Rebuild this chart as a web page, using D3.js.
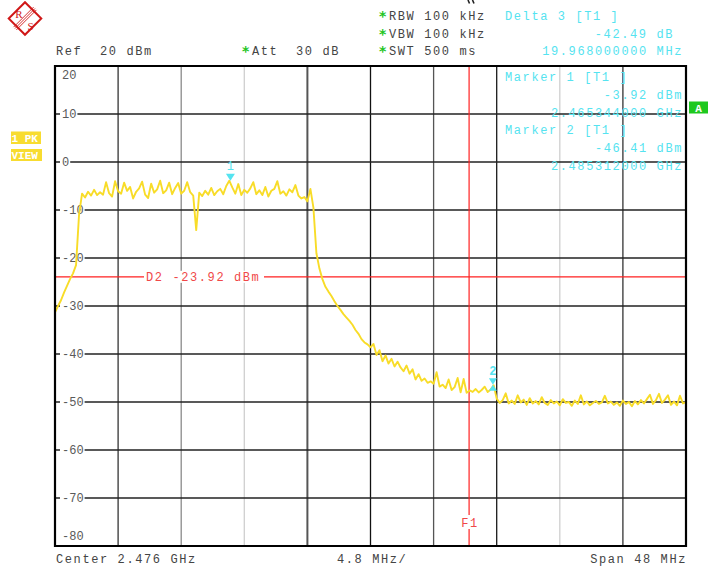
<!DOCTYPE html>
<html>
<head>
<meta charset="utf-8">
<script src="https://cdn.jsdelivr.net/npm/d3@7"></script>
<style>
  html, body { margin: 0; padding: 0; background: #fff; }
  svg { display: block; }
  text { font-family: "Liberation Mono", "DejaVu Sans Mono", monospace; white-space: pre; }
</style>
</head>
<body>
<div id="chart"></div>
<script>
// span settings (MHz) and level axis (dBm)
const freqStart = 2452;
const freqStop = 2500;
const levelTicks = [20, 10, 0, -10, -20, -30, -40, -50, -60, -70, -80];
const divFreqs = [2456.8, 2461.6, 2466.4, 2471.2, 2476.0, 2480.8, 2485.6, 2490.4, 2495.2];

// trace 1 (PK, view), equally spaced over the span
const trace = [
  -31.3, -30.0, -28.8, -27.2, -25.8, -24.4, -23.2, -21.5, -11.0, -6.6,
  -7.4, -6.2, -7.0, -5.8, -6.9, -6.3, -6.8, -4.2, -6.5, -7.2,
  -4.0, -6.1, -6.6, -4.3, -6.0, -5.2, -7.6, -6.2, -5.5, -4.1,
  -6.8, -7.5, -4.5, -6.4, -5.7, -3.9, -6.5, -5.9, -4.3, -6.7,
  -5.4, -4.4, -6.6, -6.0, -4.2, -6.3, -7.0, -14.2, -6.4, -7.1,
  -6.0, -6.8, -5.4, -6.9, -6.1, -5.6, -6.7, -5.0, -3.9, -5.3,
  -6.6, -4.6, -6.9, -5.8, -6.4, -5.5, -4.2, -6.7, -5.9, -6.9,
  -5.2, -7.2, -6.0, -5.6, -4.0, -6.6, -6.1, -7.0, -5.7, -6.3,
  -4.8, -7.0, -7.6, -7.3, -8.2, -5.6, -9.5, -19.0, -22.2, -24.4,
  -26.0, -27.0, -27.9, -29.0, -30.0, -30.8, -31.7, -32.4, -33.1, -33.9,
  -35.0, -35.8, -36.9, -37.6, -38.0, -38.6, -37.9, -40.2, -39.2, -41.5,
  -40.3, -42.0, -41.0, -42.6, -41.6, -42.8, -43.6, -42.4, -44.1, -43.2,
  -45.3, -44.2, -45.6, -45.1, -46.0, -45.7, -46.2, -43.8, -46.8, -46.4,
  -47.1, -45.3, -47.5, -46.9, -45.0, -48.0, -45.2, -48.1, -47.6, -47.9,
  -47.3, -48.0, -47.5, -46.8, -47.9, -47.4, -46.5, -49.3, -50.2, -49.6,
  -48.2, -50.3, -49.7, -50.4, -48.6, -50.1, -49.5, -50.6, -49.2, -50.3,
  -49.8, -50.5, -49.0, -50.2, -50.6, -49.6, -50.3, -49.9, -50.7, -49.4,
  -50.2, -50.0, -50.8, -49.7, -50.4, -48.6, -50.5, -49.9, -50.7, -50.2,
  -49.8, -50.4, -50.1, -48.7, -50.3, -49.9, -50.6, -50.1, -50.8, -49.7,
  -50.4, -50.0, -50.9, -49.8, -50.5, -49.6, -50.3, -49.4, -48.5, -50.4,
  -49.6, -48.3, -50.2, -49.5, -48.6, -50.6, -49.9, -50.7, -48.7, -50.3,
  -50.0
];

// markers, display line, frequency line
const markerNames = ["1", "2"];
const markerFreqs = [2465.344, 2485.312];
const markerLevels = [-3.92, -46.41];
const d2Level = -23.92;
const f1Freq = 2483.5;

// header texts
const settingLines = ["RBW 100 kHz", "VBW 100 kHz", "SWT 500 ms"];
const deltaLines = ["Delta 3 [T1 ]", "-42.49 dB", "19.968000000 MHz"];
const markerLines = [
  "Marker 1 [T1 ]", "-3.92 dBm", "2.465344000 GHz",
  "Marker 2 [T1 ]", "-46.41 dBm", "2.485312000 GHz"
];

const W = 708, H = 568;
const plot = { left: 55, right: 686, top: 66, bottom: 546 };
const gray = "#444";
const cyan = "#55e3f0";
const red = "#ff2020";
const yellow = "#f8dc28";

const svg = d3.select("#chart")
  .append("svg")
  .attr("width", W)
  .attr("height", H);

const x = d3.scaleLinear().domain([freqStart, freqStop]).range([plot.left, plot.right]);
const y = d3.scaleLinear().domain([-80, 20]).range([plot.bottom, plot.top]);

// vertical grid, shades as they come out on the screen copy
const vShades = ["#333", "#8a8a8a", "#cfcfcf", "#555", "#111", "#555", "#1a1a1a", "#cfcfcf", "#333"];
svg.selectAll(".vgrid")
  .data(divFreqs)
  .join("line")
  .attr("class", "vgrid")
  .attr("x1", d => x(d)).attr("x2", d => x(d))
  .attr("y1", plot.top).attr("y2", plot.bottom)
  .attr("stroke", (d, i) => vShades[i])
  .attr("stroke-width", (d, i) => i === 3 ? 2 : 1.3);

svg.selectAll(".hgrid")
  .data(levelTicks.slice(1, -1))
  .join("line")
  .attr("class", "hgrid")
  .attr("x1", plot.left).attr("x2", plot.right)
  .attr("y1", d => y(d)).attr("y2", d => y(d))
  .attr("stroke", "#222")
  .attr("stroke-width", 1.4);

// level labels
const yLab = svg.selectAll(".ylab")
  .data(levelTicks)
  .join("g")
  .attr("class", "ylab");

yLab.filter(d => d !== 20 && d !== -80)
  .append("rect")
  .attr("x", 60)
  .attr("y", d => y(d) - 5)
  .attr("width", d => String(d).length * 7.2 + 3)
  .attr("height", 10)
  .attr("fill", "#fff");

yLab.append("text")
  .attr("x", 62)
  .attr("y", d => d === 20 ? 79 : d === -80 ? 540 : y(d) + 4)
  .attr("font-size", "12px")
  .attr("fill", "#5a5a5a")
  .text(d => d);

// display line D2
const d2y = y(d2Level);
svg.append("line")
  .attr("x1", plot.left).attr("x2", plot.right)
  .attr("y1", d2y).attr("y2", d2y)
  .attr("stroke", red).attr("stroke-width", 1.2);
svg.append("rect")
  .attr("x", 144).attr("y", d2y - 6)
  .attr("width", 120).attr("height", 12)
  .attr("fill", "#fff");
svg.append("text")
  .attr("x", 146).attr("y", d2y + 4)
  .attr("font-size", "12px")
  .attr("letter-spacing", "1.6px")
  .attr("fill", "#f04848")
  .text(`D2 ${d2Level.toFixed(2)} dBm`);

// frequency line F1
const f1x = x(f1Freq);
svg.append("line")
  .attr("x1", f1x).attr("x2", f1x)
  .attr("y1", plot.top).attr("y2", plot.bottom)
  .attr("stroke", red).attr("stroke-width", 1.2);
svg.append("rect")
  .attr("x", f1x - 10).attr("y", 515)
  .attr("width", 20).attr("height", 14)
  .attr("fill", "#fff");
svg.append("text")
  .attr("x", f1x + 1).attr("y", 527)
  .attr("text-anchor", "middle")
  .attr("font-size", "12px")
  .attr("letter-spacing", "1.6px")
  .attr("fill", "#f04848")
  .text("F1");

// trace
const step = (freqStop - freqStart) / (trace.length - 1);
const line = d3.line()
  .x((d, i) => x(freqStart + i * step))
  .y(d => y(d));

svg.append("path")
  .datum(trace)
  .attr("fill", "none")
  .attr("stroke", yellow)
  .attr("stroke-width", 1.9)
  .attr("stroke-linejoin", "round")
  .attr("d", line);

// markers
const m1x = x(markerFreqs[0]), m1y = y(markerLevels[0]);
svg.append("path")
  .attr("d", `M${m1x - 4.5},${m1y - 7}L${m1x + 4.5},${m1y - 7}L${m1x},${m1y}Z`)
  .attr("fill", cyan);
svg.append("text")
  .attr("x", m1x).attr("y", m1y - 11)
  .attr("text-anchor", "middle")
  .attr("font-size", "12px")
  .attr("fill", cyan)
  .text(markerNames[0]);

const m2x = x(markerFreqs[1]), m2y = y(markerLevels[1]);
svg.append("path")
  .attr("d", `M${m2x - 4},${m2y - 6.5}L${m2x + 4},${m2y - 6.5}L${m2x},${m2y}Z` +
             `M${m2x - 4},${m2y + 6}L${m2x + 4},${m2y + 6}L${m2x},${m2y}Z`)
  .attr("fill", cyan);
svg.append("text")
  .attr("x", m2x).attr("y", m2y - 10)
  .attr("text-anchor", "middle")
  .attr("font-size", "12px")
  .attr("font-weight", "bold")
  .attr("fill", cyan)
  .text(markerNames[1]);

// plot frame
svg.append("path")
  .attr("d", `M${plot.left},${plot.top}H${plot.right}V${plot.bottom}H${plot.left}Z`)
  .attr("fill", "none")
  .attr("stroke", "#000")
  .attr("stroke-width", 2.2);

// header
const hdr = (sel, xx, yy, txt, fill, anchor) => sel.append("text")
  .attr("x", xx).attr("y", yy)
  .attr("font-size", "12px")
  .attr("letter-spacing", "1.6px")
  .attr("text-anchor", anchor || "start")
  .attr("fill", fill)
  .text(txt);

hdr(svg, 56, 55, "Ref  20 dBm", gray);
hdr(svg, 252, 55, "Att  30 dB", gray);

const star = (xx, yy) => svg.append("text")
  .attr("x", xx).attr("y", yy)
  .attr("font-size", "14px")
  .attr("font-weight", "bold")
  .attr("fill", "#22c422")
  .style("font-family", "'DejaVu Sans', sans-serif")
  .text("*");
star(242, 56);

const lineY = [20, 37.5, 55];
settingLines.forEach((t, i) => {
  star(379, lineY[i] + 1);
  hdr(svg, 389, lineY[i], t, gray);
});

hdr(svg, 505, lineY[0], deltaLines[0], cyan);
hdr(svg, 674, lineY[1], deltaLines[1], cyan, "end");
hdr(svg, 683, lineY[2], deltaLines[2], cyan, "end");

markerLines.forEach((t, i) => {
  const yy = 81 + i * 17.8;
  if (i % 3 === 0) hdr(svg, 505, yy, t, cyan);
  else hdr(svg, 683, yy, t, cyan, "end");
});

// footer
hdr(svg, 56, 563, `Center ${((freqStart + freqStop) / 2000).toFixed(3)} GHz`, gray);
hdr(svg, 337, 563, `${((freqStop - freqStart) / 10).toFixed(1)} MHz/`, gray);
hdr(svg, 687, 563, `Span ${freqStop - freqStart} MHz`, gray, "end");

// side badges
const badge = (bx, by, bw, bh, fill, txt, tx, ty, anchor) => {
  svg.append("rect")
    .attr("x", bx).attr("y", by)
    .attr("width", bw).attr("height", bh)
    .attr("fill", fill);
  svg.append("text")
    .attr("x", tx).attr("y", ty)
    .attr("font-size", "11px")
    .attr("font-weight", "bold")
    .attr("text-anchor", anchor || "start")
    .attr("fill", "#fff")
    .text(txt);
};
badge(11, 131.5, 30, 12.5, "#f8dc30", "1 PK", 11.5, 141.5);
badge(11, 149, 31, 12, "#f8dc30", "VIEW", 11.5, 159);
badge(689, 101.5, 19, 12, "#1ec81e", "A", 698.5, 111.5, "middle");

// clipped glyph fragment at the very top
svg.append("path")
  .attr("d", "M468,0L469.5,3.5M472.5,0L474,3.5")
  .attr("stroke", "#222")
  .attr("stroke-width", 1.6);

// R&S logo
const logo = svg.append("g").attr("transform", "translate(25,18.5)");
logo.append("rect")
  .attr("x", -11.5).attr("y", -11.5)
  .attr("width", 23).attr("height", 23)
  .attr("transform", "rotate(45)")
  .attr("fill", "#fff")
  .attr("stroke", "#d01818")
  .attr("stroke-width", 2);
[-2, 0, 2].forEach(o => {
  logo.append("line")
    .attr("x1", 10 + o * 0.7).attr("y1", -10 + o * 0.7)
    .attr("x2", -10 + o * 0.7).attr("y2", 10 + o * 0.7)
    .attr("stroke", "#d01818")
    .attr("stroke-width", 0.9);
});
logo.append("text")
  .attr("x", -6).attr("y", -1)
  .attr("text-anchor", "middle")
  .attr("font-size", "11px")
  .attr("fill", "#d01818")
  .style("font-family", "'Liberation Serif', serif")
  .text("R");
logo.append("text")
  .attr("x", 5.5).attr("y", 11)
  .attr("text-anchor", "middle")
  .attr("font-size", "11px")
  .attr("fill", "#d01818")
  .style("font-family", "'Liberation Serif', serif")
  .text("S");
</script>
</body>
</html>
